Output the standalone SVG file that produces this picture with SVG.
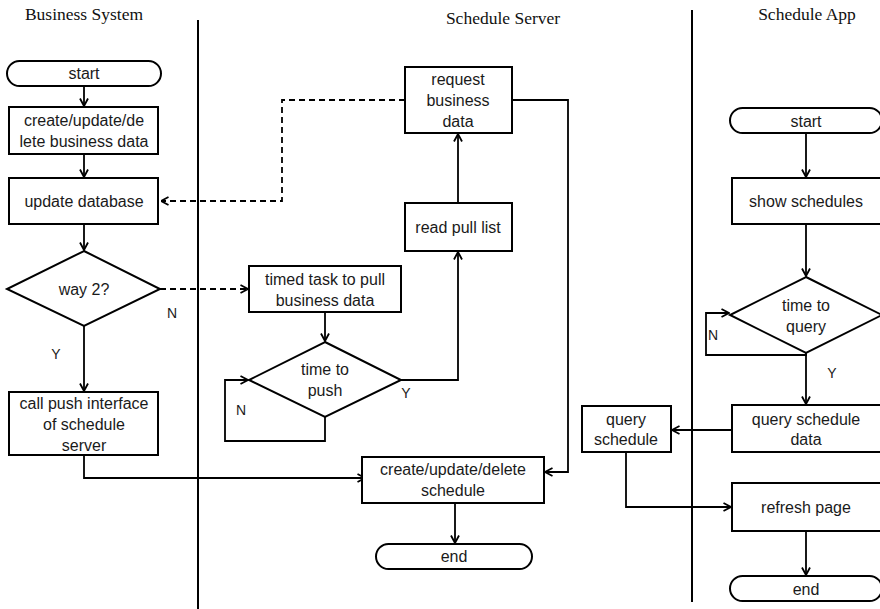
<svg xmlns="http://www.w3.org/2000/svg" width="880" height="609" viewBox="0 0 880 609">
<style>
.bg{fill:#fff}
.shape{fill:#fff;stroke:#000;stroke-width:2}
.lane{stroke:#000;stroke-width:2;fill:none}
.line{fill:none;stroke:#000;stroke-width:1.8}
.dash{fill:none;stroke:#000;stroke-width:1.8;stroke-dasharray:6,4}
.t{font-family:"Liberation Sans",Arial,sans-serif;font-size:16px;fill:#1a1a1a;text-anchor:middle}
.lbl{font-family:"Liberation Sans",Arial,sans-serif;font-size:14px;fill:#1a1a1a;text-anchor:middle}
.title{font-family:"Liberation Serif","Times New Roman",serif;font-size:17.5px;fill:#111;text-anchor:middle}
</style>
<defs>
<marker id="arr" viewBox="0 0 10 10" refX="9.5" refY="5" markerWidth="10" markerHeight="10" markerUnits="userSpaceOnUse" orient="auto">
<path d="M2,1 L9.5,5 L2,9" fill="none" stroke="#000" stroke-width="1.8"/>
</marker>
</defs>
<rect class="bg" x="0" y="0" width="880" height="609"/>

<g id="lanes">
<line class="lane" x1="198" y1="20" x2="198" y2="609"/>
<line class="lane" x1="692" y1="10" x2="692" y2="602"/>
<text class="title" x="84" y="20">Business System</text>
<text class="title" x="503" y="24">Schedule Server</text>
<text class="title" x="807" y="20">Schedule App</text>
</g>

<g id="connectors">
<line class="line" x1="84" y1="86" x2="84" y2="106" marker-end="url(#arr)"/>
<line class="line" x1="84" y1="154" x2="84" y2="177" marker-end="url(#arr)"/>
<line class="line" x1="84" y1="224" x2="84" y2="250" marker-end="url(#arr)"/>
<line class="line" x1="84" y1="326" x2="84" y2="391" marker-end="url(#arr)"/>
<polyline class="line" points="84,455 84,478 365,478" marker-end="url(#arr)"/>
<polyline class="dash" points="405,100 282,100 282,201 161,201" marker-end="url(#arr)"/>
<line class="dash" x1="160" y1="289" x2="248" y2="289" marker-end="url(#arr)"/>
<line class="line" x1="458" y1="203" x2="458" y2="134" marker-end="url(#arr)"/>
<line class="line" x1="325" y1="312" x2="325" y2="341" marker-end="url(#arr)"/>
<polyline class="line" points="325,417 325,441 225,441 225,380 248,380" marker-end="url(#arr)"/>
<polyline class="line" points="401,380 458,380 458,252" marker-end="url(#arr)"/>
<polyline class="line" points="512,100 568,100 568,472 545,472" marker-end="url(#arr)"/>
<line class="line" x1="455" y1="503" x2="455" y2="543" marker-end="url(#arr)"/>
<line class="line" x1="806" y1="133" x2="806" y2="177" marker-end="url(#arr)"/>
<line class="line" x1="806" y1="224" x2="806" y2="276" marker-end="url(#arr)"/>
<polyline class="line" points="806,353 806,355 706,355 706,313 729,313" marker-end="url(#arr)"/>
<line class="line" x1="806" y1="353" x2="806" y2="404" marker-end="url(#arr)"/>
<line class="line" x1="732" y1="430" x2="672" y2="430" marker-end="url(#arr)"/>
<polyline class="line" points="626,452 626,507 731,507" marker-end="url(#arr)"/>
<line class="line" x1="806" y1="531" x2="806" y2="575" marker-end="url(#arr)"/>
<text class="lbl" x="172" y="318">N</text>
<text class="lbl" x="56" y="359">Y</text>
<text class="lbl" x="241" y="415">N</text>
<text class="lbl" x="406" y="398">Y</text>
<text class="lbl" x="713" y="340">N</text>
<text class="lbl" x="832" y="378">Y</text>
</g>

<g id="bs-start">
<rect class="shape" x="7" y="61" width="154" height="25" rx="12.5"/>
<text class="t" x="84" y="79">start</text>
</g>
<g id="bs-create">
<rect class="shape" x="9" y="107" width="149" height="47"/>
<text class="t" x="84" y="126">create/update/de</text>
<text class="t" x="84" y="147">lete business data</text>
</g>
<g id="bs-update">
<rect class="shape" x="9" y="178" width="149" height="46"/>
<text class="t" x="84" y="207">update database</text>
</g>
<g id="bs-way2">
<polygon class="shape" points="84,251 160,289 84,326 7,289"/>
<text class="t" x="84" y="295">way 2?</text>
</g>
<g id="bs-push">
<rect class="shape" x="9" y="392" width="149" height="63"/>
<text class="t" x="84" y="409">call push interface</text>
<text class="t" x="84" y="430">of schedule</text>
<text class="t" x="84" y="451">server</text>
</g>

<g id="ss-request">
<rect class="shape" x="405" y="67" width="107" height="66"/>
<text class="t" x="458" y="85">request</text>
<text class="t" x="458" y="106">business</text>
<text class="t" x="458" y="127">data</text>
</g>
<g id="ss-readpull">
<rect class="shape" x="405" y="203" width="107" height="48"/>
<text class="t" x="458" y="233">read pull list</text>
</g>
<g id="ss-timed">
<rect class="shape" x="249" y="266" width="152" height="46"/>
<text class="t" x="325" y="285">timed task to pull</text>
<text class="t" x="325" y="306">business data</text>
</g>
<g id="ss-timepush">
<polygon class="shape" points="325,342 401,380 325,417 249,380"/>
<text class="t" x="325" y="375">time to</text>
<text class="t" x="325" y="396">push</text>
</g>
<g id="ss-cud">
<rect class="shape" x="362" y="457" width="182" height="46"/>
<text class="t" x="453" y="475">create/update/delete</text>
<text class="t" x="453" y="496">schedule</text>
</g>
<g id="ss-end">
<rect class="shape" x="376" y="544" width="156" height="25" rx="12.5"/>
<text class="t" x="454" y="562">end</text>
</g>
<g id="ss-query">
<rect class="shape" x="582" y="406" width="89" height="46"/>
<text class="t" x="626" y="425">query</text>
<text class="t" x="626" y="445">schedule</text>
</g>

<g id="sa-start">
<rect class="shape" x="730" y="108" width="152" height="25" rx="12.5"/>
<text class="t" x="806" y="127">start</text>
</g>
<g id="sa-show">
<rect class="shape" x="732" y="178" width="149" height="46"/>
<text class="t" x="806" y="207">show schedules</text>
</g>
<g id="sa-timequery">
<polygon class="shape" points="806,277 882,315 806,353 730,315"/>
<text class="t" x="806" y="311">time to</text>
<text class="t" x="806" y="332">query</text>
</g>
<g id="sa-querydata">
<rect class="shape" x="732" y="405" width="149" height="47"/>
<text class="t" x="806" y="425">query schedule</text>
<text class="t" x="806" y="445">data</text>
</g>
<g id="sa-refresh">
<rect class="shape" x="732" y="483" width="149" height="48"/>
<text class="t" x="806" y="513">refresh page</text>
</g>
<g id="sa-end">
<rect class="shape" x="730" y="576" width="152" height="25" rx="12.5"/>
<text class="t" x="806" y="595">end</text>
</g>
</svg>
